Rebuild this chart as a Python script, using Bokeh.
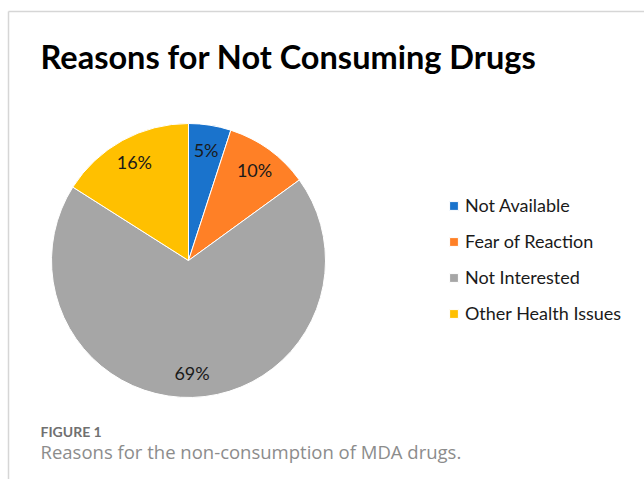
import math
from bokeh.plotting import figure
from bokeh.models import Range1d, Legend, LegendItem, ColumnDataSource
from bokeh.core.properties import value
from bokeh.embed import file_html
from bokeh.resources import INLINE

# ---- data ----
categories = ["Not Available", "Fear of Reaction", "Not Interested", "Other Health Issues"]
percents = [5, 10, 69, 16]
colors = ["#1A73CC", "#FF8026", "#A6A6A6", "#FFC000"]
title_text = "Reasons for Not Consuming Drugs"
fig_label = "FIGURE 1"
caption = "Reasons for the non-consumption of MDA drugs."

W, H = 644, 479
FONT = "Lato"

p = figure(width=W, height=H, output_backend="svg", toolbar_location=None,
           x_range=Range1d(0, W), y_range=Range1d(0, H), min_border=0)
p.axis.visible = False
p.grid.visible = False
p.outline_line_color = None
p.background_fill_color = "white"
p.border_fill_color = "white"

# frame lines
p.segment(x0=[8, 8], y0=[H - 11, H - 11], x1=[W, 8], y1=[H - 11, 0],
          line_color="#d6d6d6", line_width=1.5)

# pie
cx, cy, R = 188, H - 260, 137
total = sum(percents)
starts, ends, lx, ly, labels = [], [], [], [], []
cum = 0.0
for v in percents:
    a0 = math.pi / 2 - 2 * math.pi * cum / total
    cum += v
    a1 = math.pi / 2 - 2 * math.pi * cum / total
    starts.append(a0)
    ends.append(a1)
    mid = (a0 + a1) / 2
    lx.append(cx + 0.82 * R * math.cos(mid))
    ly.append(cy + 0.82 * R * math.sin(mid))
    labels.append(f"{v}%")

src = ColumnDataSource(dict(start=starts, end=ends, color=colors, cat=categories,
                            lx=lx, ly=ly, lab=labels))
wedges = p.wedge(x=cx, y=cy, radius=R, start_angle="start", end_angle="end",
                 direction="clock", fill_color="color", line_color="white",
                 line_width=1, source=src)
p.text(x="lx", y="ly", text="lab", source=src, text_font=value(FONT),
       text_font_size="18px", text_color="#1a1a1a", text_align="center",
       text_baseline="middle")

# legend
items = [LegendItem(label=c, renderers=[wedges], index=i) for i, c in enumerate(categories)]
legend = Legend(items=items, location=(448, H - 324), orientation="vertical",
                glyph_width=11, glyph_height=11, label_height=20, spacing=14,
                label_standoff=6, padding=0, margin=0,
                label_text_font=FONT, label_text_font_size="18px",
                label_text_color="#1a1a1a", border_line_alpha=0,
                background_fill_alpha=0)
p.add_layout(legend, "center")

# title and caption
p.text(x=[40], y=[H - 56], text=[title_text], text_font=value(FONT),
       text_font_style="bold", text_font_size="32.5px", text_color="black",
       text_baseline="alphabetic")
p.text(x=[40], y=[H - 431], text=[fig_label], text_font=value(FONT),
       text_font_style="bold", text_font_size="14px", text_color="#707070",
       text_baseline="middle")
p.text(x=[40], y=[H - 451], text=[caption], text_font=value("Open Sans"),
       text_font_size="18.5px", text_color="#8c8c8c", text_baseline="middle")

open("out.html", "w").write(file_html(p, INLINE))
